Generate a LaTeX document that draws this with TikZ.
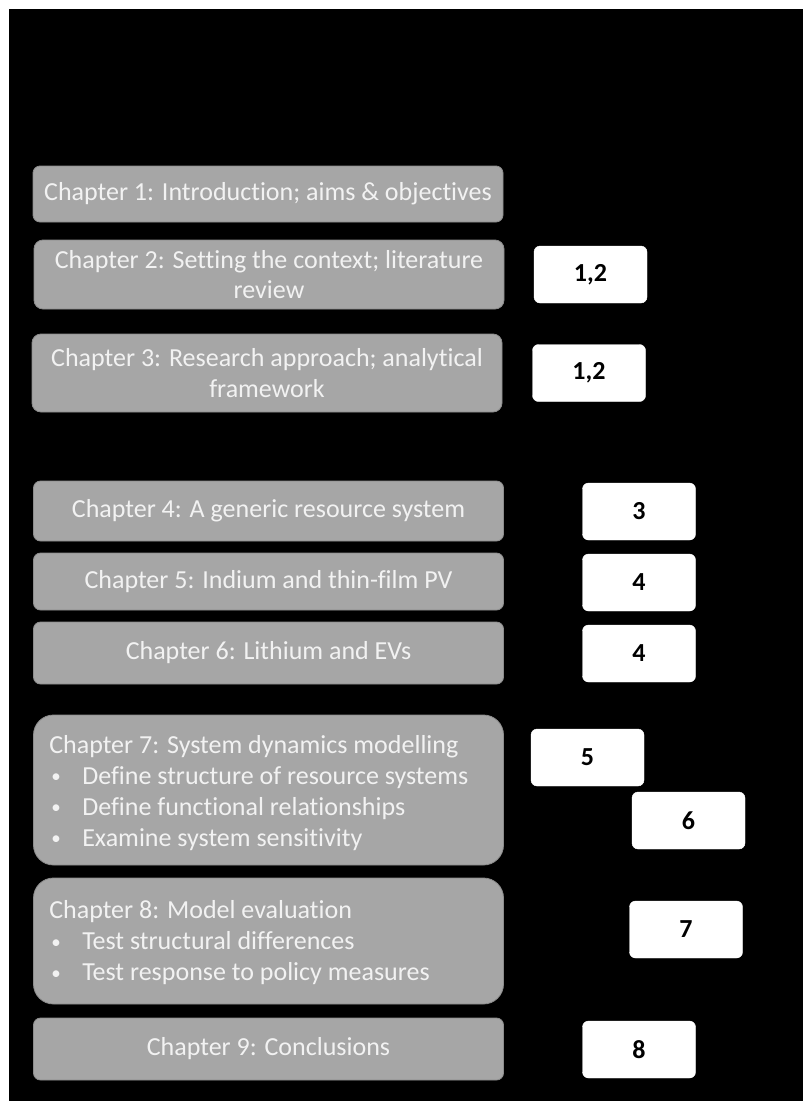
\documentclass[tikz,border=0pt]{standalone}
\usepackage{fontspec}
\setmainfont{Carlito}[Ligatures={NoCommon}]
\definecolor{chapfill}{HTML}{A6A6A6}
\definecolor{chapline}{HTML}{8C8C8C}
\definecolor{chaptext}{HTML}{F2F2F2}
\tikzset{
  chap/.style={draw=chapline, line width=0.8pt, fill=chapfill, text=chaptext,
    rounded corners=7pt, minimum width=470pt, inner sep=0pt, align=center,
    font=\fontsize{26}{30.5}\selectfont},
  chapbig/.style={chap, rounded corners=20pt},
  listtext/.style={text=chaptext, inner sep=0pt, align=left, anchor=west,
    font=\fontsize{26}{31}\selectfont},
  objbox/.style={draw=white, fill=white, text=black, rounded corners=6pt,
    minimum width=113pt, minimum height=57pt, inner sep=0pt,
    font=\fontsize{26}{30}\selectfont\bfseries}
}
% bulleted line inside a chapter box
\newcommand{\itm}[1]{\hspace*{2pt}\makebox[31pt][l]{\raisebox{1.5pt}{\fontsize{19}{19}\selectfont•}}#1}
\begin{document}
\begin{tikzpicture}[x=1pt,y=-1pt]
  \useasboundingbox (0,0) rectangle (803,1101);
  \fill[white] (0,0) rectangle (803,1101);
  \fill[black] (9,9) rectangle (803,1101);

  % chapter boxes
  \node[chap, minimum height=56pt] (c1) at (268,194) {Chapter 1: Introduction; aims \& objectives};
  \node[chap, minimum height=69pt, rounded corners=9pt] (c2) at (269,274.5) {Chapter 2: Setting the context; literature\\review};
  \node[chap, minimum height=78pt, rounded corners=9pt] (c3) at (267,373) {Chapter 3: Research approach; analytical\\framework};
  \node[chap, minimum height=60pt] (c4) at (268.5,511) {Chapter 4: A generic resource system};
  \node[chap, minimum height=57pt] (c5) at (268.5,581.5) {Chapter 5: Indium and thin-film PV};
  \node[chap, minimum height=62pt] (c6) at (268.5,653) {Chapter 6: Lithium and EVs};
  \node[chapbig, minimum height=150pt] (c7) at (268.5,790) {};
  \node[listtext] (c7t) at ([xshift=16pt,yshift=-3pt]c7.west) {Chapter 7: System dynamics modelling\\
    \itm{Define structure of resource systems}\\
    \itm{Define functional relationships}\\
    \itm{Examine system sensitivity}};
  \node[chapbig, minimum height=126pt] (c8) at (268.5,941) {};
  \node[listtext] (c8t) at ([xshift=16pt,yshift=-2pt]c8.west) {Chapter 8: Model evaluation\\
    \itm{Test structural differences}\\
    \itm{Test response to policy measures}};
  \node[chap, minimum height=62pt] (c9) at (268.5,1049) {Chapter 9: Conclusions};

  % objective boxes
  \node[objbox] (o1) at (590.5,274.5) {1,2};
  \node[objbox] (o2) at (589,373) {1,2};
  \node[objbox] (o3) at (639,511.5) {3};
  \node[objbox] (o4) at (639,582.5) {4};
  \node[objbox] (o5) at (639,653.5) {4};
  \node[objbox] (o6) at (587.5,757.5) {5};
  \node[objbox] (o7) at (688.5,820.5) {6};
  \node[objbox] (o8) at (686,929.5) {7};
  \node[objbox] (o9) at (639,1049.5) {8};
\end{tikzpicture}
\end{document}
